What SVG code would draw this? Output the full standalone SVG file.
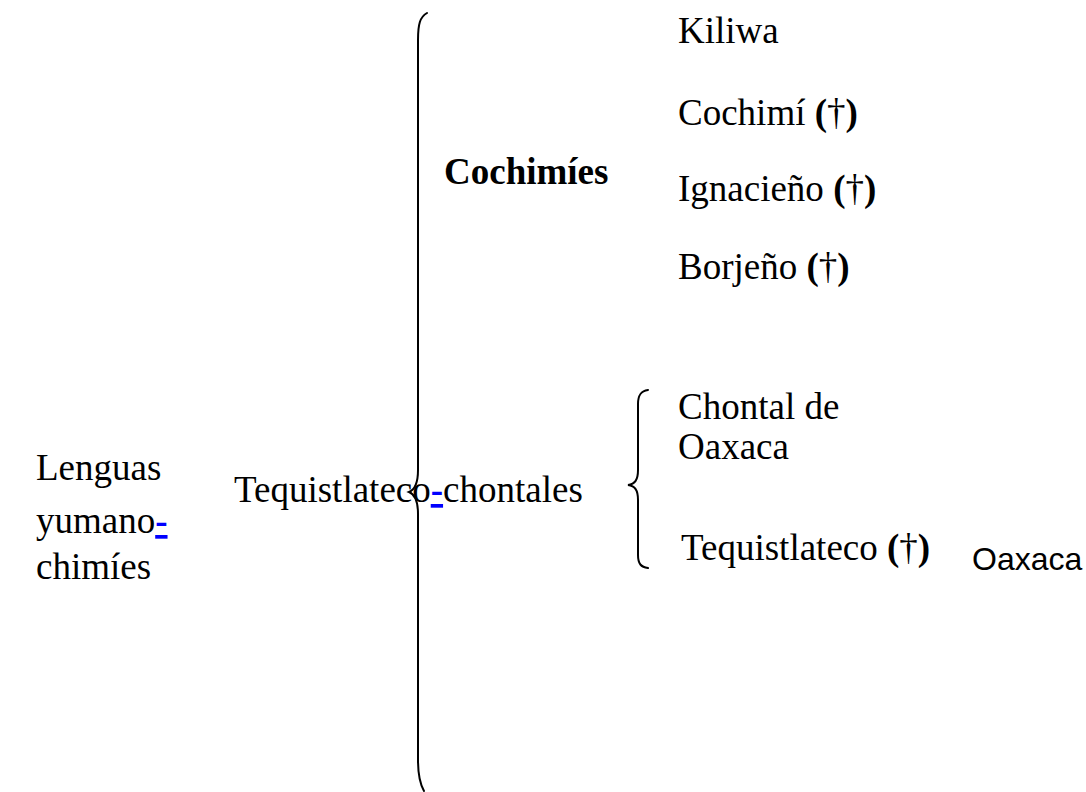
<svg xmlns="http://www.w3.org/2000/svg" width="1086" height="792" viewBox="0 0 1086 792">
  <style>
    text { font-family: "Liberation Serif", "Times New Roman", serif; font-size: 37px; fill: #000; }
    .b { font-weight: bold; }
    .sans { font-family: "Liberation Sans", Arial, sans-serif; font-size: 32px; }
    .link { fill: #0000ff; font-weight: bold; text-decoration: underline; }
    .brace { fill: none; stroke: #000; stroke-width: 2; stroke-linecap: round; }
  </style>
  <rect width="1086" height="792" fill="#fff"/>

  <g id="connectors">
    <!-- large brace grouping the two subfamilies -->
    <path class="brace" d="M427,13 C420,17 418,24 418,40 L418,470 C418,484 414,490 409,492 C414,494 418,500 418,514 L418,760 C418,776 420,784 424,791"/>
    <!-- small brace grouping the Tequistlateco-chontal languages -->
    <path class="brace" d="M648,390 C641,391 638,395 638,404 L638,470 C638,480 635,484 628,485 C635,486 638,490 638,500 L638,555 C638,564 641,567 648,568"/>
  </g>

  <g id="root">
    <text x="36" y="480">Lenguas</text>
    <text x="36" y="533">yumano<tspan class="link">-</tspan></text>
    <text x="36" y="579">chimíes</text>
  </g>

  <g id="cochimies">
    <text x="444" y="184" class="b">Cochimíes</text>
  </g>

  <g id="tequistlateco-chontales">
    <text x="234" y="502">Tequistlateco<tspan class="link">-</tspan>chontales</text>
  </g>

  <g id="kiliwa"><text x="678" y="43">Kiliwa</text></g>
  <g id="cochimi"><text x="678" y="125">Cochimí <tspan class="b">(</tspan>†<tspan class="b">)</tspan></text></g>
  <g id="ignacieno"><text x="678" y="201">Ignacieño <tspan class="b">(</tspan>†<tspan class="b">)</tspan></text></g>
  <g id="borjeno"><text x="678" y="279">Borjeño <tspan class="b">(</tspan>†<tspan class="b">)</tspan></text></g>

  <g id="chontal-oaxaca">
    <text x="678" y="419">Chontal de</text>
    <text x="678" y="459">Oaxaca</text>
  </g>

  <g id="tequistlateco">
    <text x="681" y="560">Tequistlateco <tspan class="b">(</tspan>†<tspan class="b">)</tspan></text>
  </g>

  <g id="oaxaca">
    <text x="972" y="570" class="sans">Oaxaca</text>
  </g>
</svg>
